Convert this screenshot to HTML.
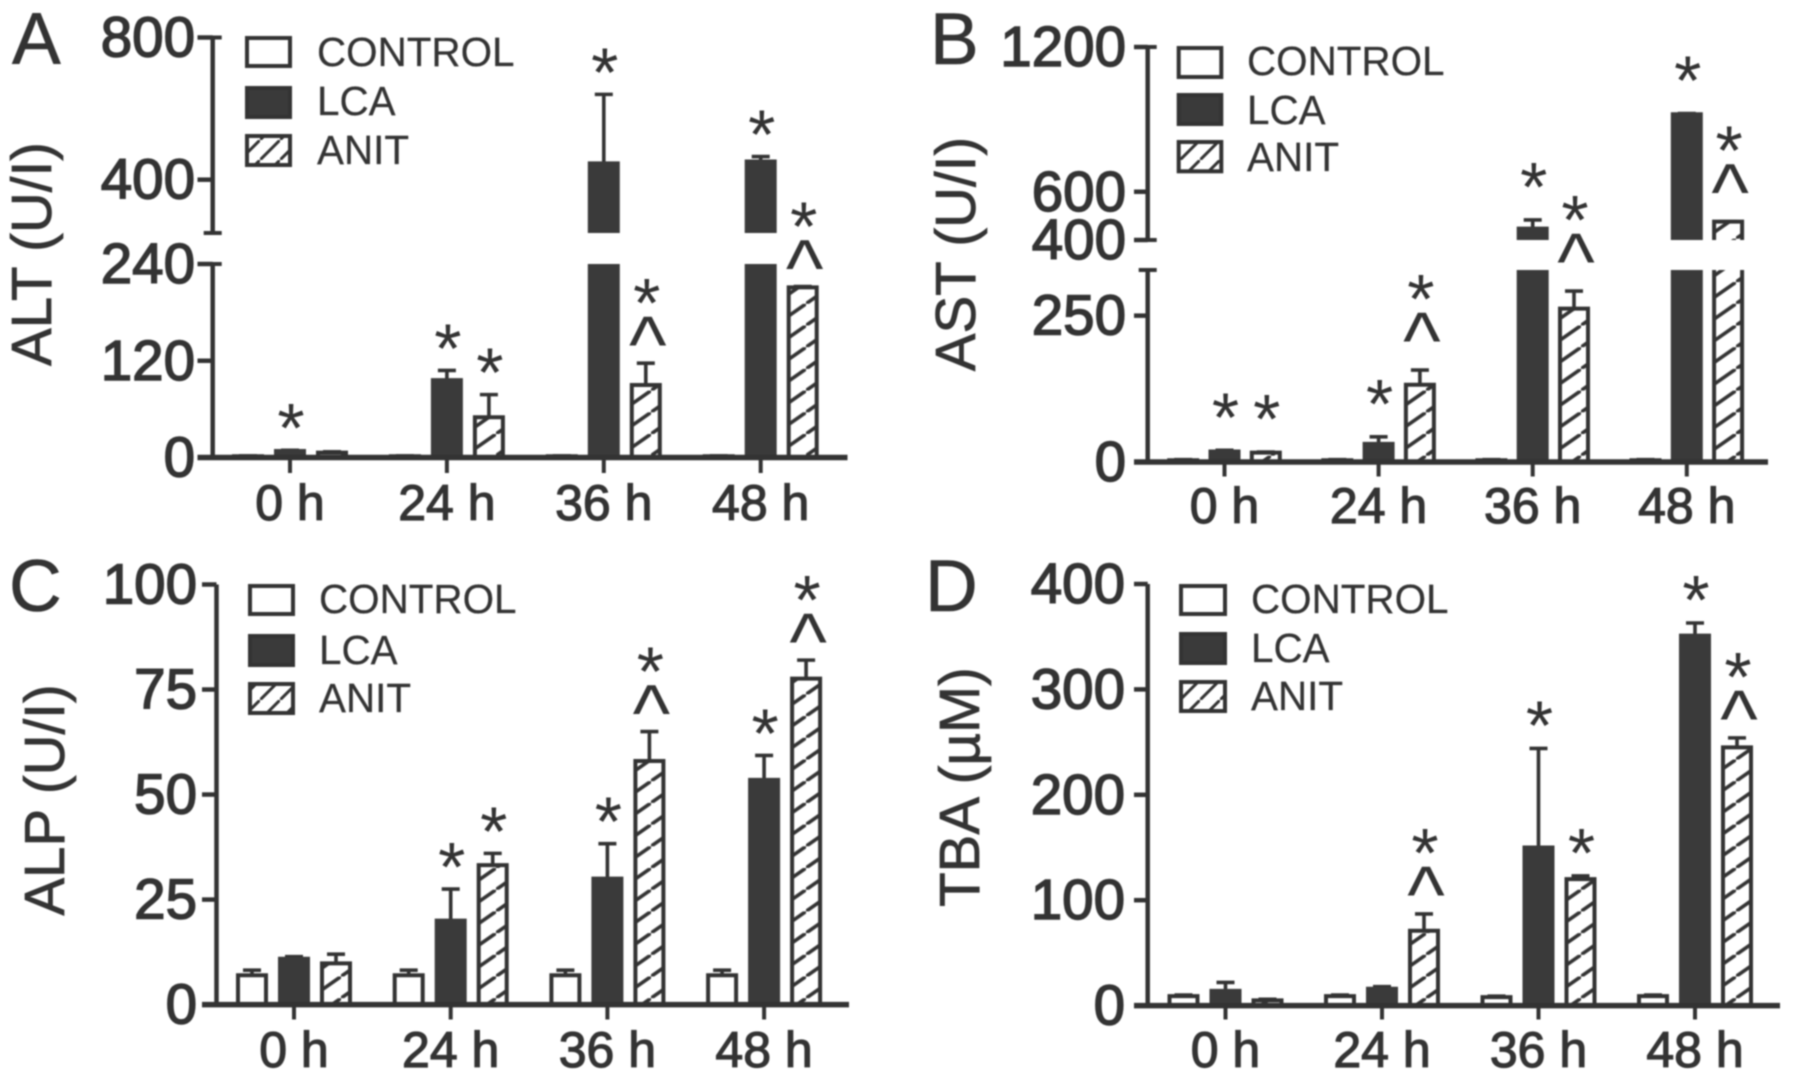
<!DOCTYPE html>
<html>
<head>
<meta charset="utf-8">
<title>Liver injury markers: ALT, AST, ALP and TBA</title>
<style>
html,body{margin:0;padding:0;background:#fff;width:1795px;height:1080px;overflow:hidden}
svg{display:block;filter:blur(.8px)}
text{font-family:"Liberation Sans",Arial,sans-serif;fill:#333}
.panel-letter{font-size:73px;stroke:#333;stroke-width:.6px}
.y-title{font-size:56.5px;text-anchor:middle;stroke:#333;stroke-width:.7px}
.legend-text{font-size:40.4px;stroke:#333;stroke-width:.2px}
.legend-box{stroke:#333;stroke-width:4px}
.tick-text{font-size:56.5px;text-anchor:end;stroke:#333;stroke-width:1.5px}
.cat-text{font-size:50px;text-anchor:middle;stroke:#333;stroke-width:1.2px}
.star{font-size:70px;text-anchor:middle}
.caret{font-size:80px;text-anchor:middle}
</style>
</head>
<body>
<svg id="figure" width="1795" height="1080" viewBox="0 0 1795 1080" xmlns="http://www.w3.org/2000/svg">
  <defs>
    <pattern id="hatch" patternUnits="userSpaceOnUse" width="31" height="21.7">
      <path d="M-3 23.8 L34 -2.1" stroke="#333" stroke-width="3.6" fill="none"/>
    </pattern>
    <pattern id="hatch-legend" patternUnits="userSpaceOnUse" width="20" height="20">
      <path d="M-2 22 L22 -2" stroke="#333" stroke-width="3" fill="none"/>
    </pattern>
  </defs>
  <rect x="0" y="0" width="1795" height="1080" fill="#fff"/>

  <g id="panel-a">
    <text class="panel-letter" x="12" y="64">A</text>
    <text class="y-title" transform="translate(51 254) rotate(-90)">ALT (U/I)</text>
    <g>
      <rect class="legend-box" x="247" y="38" width="43" height="28" fill="#fff"/>
      <text class="legend-text" x="317" y="66">CONTROL</text>
      <rect class="legend-box" x="247" y="88" width="43" height="29" fill="#3a3a3a"/>
      <text class="legend-text" x="317" y="115">LCA</text>
      <rect class="legend-box" x="247" y="136" width="43" height="29" fill="url(#hatch-legend)"/>
      <text class="legend-text" x="317" y="164">ANIT</text>
    </g>
  </g>

  <g id="panel-b">
    <text class="panel-letter" x="930" y="64">B</text>
    <text class="y-title" transform="translate(975 254) rotate(-90)">AST (U/I)</text>
    <g>
      <rect class="legend-box" x="1178.7" y="48" width="42.6" height="29" fill="#fff"/>
      <text class="legend-text" x="1247" y="75">CONTROL</text>
      <rect class="legend-box" x="1178.7" y="95" width="42.6" height="29" fill="#3a3a3a"/>
      <text class="legend-text" x="1247" y="124">LCA</text>
      <rect class="legend-box" x="1178.7" y="142" width="42.6" height="29.3" fill="url(#hatch-legend)"/>
      <text class="legend-text" x="1247" y="171">ANIT</text>
    </g>
  </g>

  <g id="panel-c">
    <text class="panel-letter" x="9" y="611">C</text>
    <text class="y-title" transform="translate(64 800) rotate(-90)">ALP (U/I)</text>
    <g>
      <rect class="legend-box" x="250" y="586" width="43" height="28" fill="#fff"/>
      <text class="legend-text" x="319" y="613">CONTROL</text>
      <rect class="legend-box" x="250" y="636" width="43" height="29" fill="#3a3a3a"/>
      <text class="legend-text" x="319" y="664">LCA</text>
      <rect class="legend-box" x="250" y="684" width="43" height="29" fill="url(#hatch-legend)"/>
      <text class="legend-text" x="319" y="712">ANIT</text>
    </g>
  </g>

  <g id="panel-d">
    <text class="panel-letter" x="925" y="611">D</text>
    <text class="y-title" transform="translate(979 787) rotate(-90)">TBA (µM)</text>
    <g>
      <rect class="legend-box" x="1181" y="586" width="44" height="28" fill="#fff"/>
      <text class="legend-text" x="1251" y="613">CONTROL</text>
      <rect class="legend-box" x="1181" y="634" width="44" height="29" fill="#3a3a3a"/>
      <text class="legend-text" x="1251" y="662">LCA</text>
      <rect class="legend-box" x="1181" y="682" width="44" height="29" fill="url(#hatch-legend)"/>
      <text class="legend-text" x="1251" y="710">ANIT</text>
    </g>
  </g>
</svg>

<script>
// ---- shared categories ----
const categories = ['0 h', '24 h', '36 h', '48 h'];

// ---- panel A: ALT (U/I) ----
const altTicks = [0, 120, 240, 400, 800];
const altControl = [1.5, 1.5, 1.5, 1.5];
const altControlErr = [0.5, 0.5, 0.5, 0.5];
const altLca = [8, 96, 446, 451];
const altLcaErr = [1, 12, 194, 14];
const altAnit = [6, 50, 90, 211];
const altAnitErr = [1, 28, 27, 1];
const altLcaMarks = ['*', '*', '*', '*'];
const altAnitMarks = ['', '*', '*^', '*^'];

// ---- panel B: AST (U/I) ----
const astTicks = [0, 250, 400, 600, 1200];
const astControl = [3, 3, 3, 3];
const astControlErr = [1, 1, 1, 1];
const astLca = [18, 31, 447, 921];
const astLcaErr = [2, 12, 36, 3];
const astAnit = [16, 132, 262, 476];
const astAnitErr = [1, 25, 30, 0];
const astLcaMarks = ['*', '*', '*', '*'];
const astAnitMarks = ['*', '*^', '*^', '*^'];

// ---- panel C: ALP (U/I) ----
const alpTicks = [0, 25, 50, 75, 100];
const alpControl = [7, 7, 7, 7];
const alpControlErr = [1.2, 1.2, 1.2, 1.2];
const alpLca = [10.9, 20, 30, 53.5];
const alpLcaErr = [0.5, 7.5, 8.3, 5.8];
const alpAnit = [9.8, 33.2, 58, 77.6];
const alpAnitErr = [2.2, 2.8, 7, 4.4];
const alpLcaMarks = ['', '*', '*', '*'];
const alpAnitMarks = ['', '*', '*^', '*^'];

// ---- panel D: TBA (uM) ----
const tbaTicks = [0, 100, 200, 300, 400];
const tbaControl = [9, 9, 8, 9];
const tbaControlErr = [1, 1, 1, 1];
const tbaLca = [14, 16, 150, 351];
const tbaLcaErr = [8, 2, 94, 12];
const tbaAnit = [5, 71, 120, 245];
const tbaAnitErr = [1, 16, 3, 9];
const tbaLcaMarks = ['', '', '*', '*'];
const tbaAnitMarks = ['', '*^', '*', '*^'];

const SVGNS = 'http://www.w3.org/2000/svg';
const INK = '#333';
const DARK = '#3a3a3a';

function mk(parent, tag, attrs, txt) {
  const n = document.createElementNS(SVGNS, tag);
  for (const k in attrs) n.setAttribute(k, attrs[k]);
  if (txt !== undefined) n.textContent = txt;
  parent.appendChild(n);
  return n;
}

function makeY(segs) {
  return function (v) {
    let s = segs[0];
    for (const c of segs) if (v >= c.d[0]) s = c;
    return s.r[0] + (v - s.d[0]) / (s.d[1] - s.d[0]) * (s.r[1] - s.r[0]);
  };
}

const panels = [
  { id: 'panel-a', key: 'alt', ticks: altTicks, control: altControl, controlErr: altControlErr,
    lca: altLca, lcaErr: altLcaErr, anit: altAnit, anitErr: altAnitErr,
    lcaMarks: altLcaMarks, anitMarks: altAnitMarks,
    segs: [{ d: [0, 240], r: [457.5, 264] }, { d: [250, 800], r: [233, 37.5] }],
    axisX: 212.7, xStart: 197.5, xEnd: 847.5, tickEnd: 473, labelRight: 195, catBase: 520,
    x0: 290, groupStep: 156.9, barStep: 42, gap: 31 },
  { id: 'panel-b', key: 'ast', ticks: astTicks, control: astControl, controlErr: astControlErr,
    lca: astLca, lcaErr: astLcaErr, anit: astAnit, anitErr: astAnitErr,
    lcaMarks: astLcaMarks, anitMarks: astAnitMarks,
    segs: [{ d: [0, 328], r: [462, 270] }, { d: [400, 1200], r: [240, 47] }],
    axisX: 1147.7, xStart: 1134, xEnd: 1768, tickEnd: 476.5, labelRight: 1126, catBase: 523,
    x0: 1224.5, groupStep: 154.1, barStep: 41.3, gap: 42 },
  { id: 'panel-c', key: 'alp', ticks: alpTicks, control: alpControl, controlErr: alpControlErr,
    lca: alpLca, lcaErr: alpLcaErr, anit: alpAnit, anitErr: alpAnitErr,
    lcaMarks: alpLcaMarks, anitMarks: alpAnitMarks,
    segs: [{ d: [0, 100], r: [1004.6, 584.5] }],
    axisX: 216.5, xStart: 202, xEnd: 849, tickEnd: 1019.5, labelRight: 197, catBase: 1067,
    x0: 294, groupStep: 156.7, barStep: 42, gap: 31 },
  { id: 'panel-d', key: 'tba', ticks: tbaTicks, control: tbaControl, controlErr: tbaControlErr,
    lca: tbaLca, lcaErr: tbaLcaErr, anit: tbaAnit, anitErr: tbaAnitErr,
    lcaMarks: tbaLcaMarks, anitMarks: tbaAnitMarks,
    segs: [{ d: [0, 400], r: [1005.6, 584] }],
    axisX: 1147.7, xStart: 1134, xEnd: 1780, tickEnd: 1019.5, labelRight: 1125, catBase: 1067,
    x0: 1225.5, groupStep: 156.5, barStep: 42, gap: 32 }
];

const BAR_W = 28;

function drawBarPiece(g, x, yTop, yBottom, kind, closedTop) {
  const fill = kind === 'lca' ? DARK : kind === 'anit' ? 'url(#hatch)' : '#fff';
  const l = x - BAR_W / 2, r = x + BAR_W / 2;
  const piece = mk(g, 'path', {
    d: closedTop
      ? 'M' + l + ' ' + yBottom + 'L' + l + ' ' + yTop + 'L' + r + ' ' + yTop + 'L' + r + ' ' + yBottom
      : 'M' + l + ' ' + yBottom + 'L' + l + ' ' + yTop + 'M' + r + ' ' + yTop + 'L' + r + ' ' + yBottom,
    stroke: kind === 'lca' ? DARK : INK, 'stroke-width': 4, fill: 'none', 'stroke-linejoin': 'miter'
  });
  
  
  const body = mk(g, 'rect', { x: l, y: yTop, width: BAR_W, height: Math.max(0, yBottom - yTop), fill: fill });
  
  
  g.insertBefore(body, piece);
}

function drawPanel(p) {
  const root = document.getElementById(p.id);
  const y = makeY(p.segs);
  const base = y(0);
  const plot = mk(root, 'g', {});
  
  

  const groups = [
    { kind: 'control', vals: p.control, errs: p.controlErr, off: -1, marks: null },
    { kind: 'lca', vals: p.lca, errs: p.lcaErr, off: 0, marks: p.lcaMarks },
    { kind: 'anit', vals: p.anit, errs: p.anitErr, off: 1, marks: p.anitMarks }
  ];

  categories.forEach(function (cat, i) {
    const cx = p.x0 + i * p.groupStep;
    groups.forEach(function (s) {
      const x = cx + s.off * p.barStep;
      const v = s.vals[i], e = s.errs[i];
      const g = mk(plot, 'g', {});
      
      

      // error bar
      const top = y(v + e), vy = y(v);
      const stem = mk(g, 'line', { x1: x, x2: x, y1: vy, y2: top, stroke: INK, 'stroke-width': 3.6 });
      
      
      const cap = mk(g, 'line', { x1: x - 9, x2: x + 9, y1: top, y2: top, stroke: INK, 'stroke-width': 3.6 });
      
      

      // bar, split over any axis break
      if (p.segs.length === 1 || v <= p.segs[0].d[1]) {
        drawBarPiece(g, x, y(v), base, s.kind, true);
      } else {
        drawBarPiece(g, x, p.segs[0].r[1], base, s.kind, false);
        drawBarPiece(g, x, y(v), p.segs[1].r[0], s.kind, true);
      }

      // significance marks
      if (s.marks && s.marks[i]) {
        let cy = top - p.gap;
        const m = s.marks[i];
        if (m.indexOf('^') >= 0) {
          const c = mk(g, 'text', { class: 'caret', x: x + 2, y: cy + 40 }, '^');
          
          
          cy -= 38;
        }
        if (m.indexOf('*') >= 0) {
          const t = mk(g, 'text', { class: 'star', x: x + 1, y: cy + 33 }, '*');
          
          
        }
      }
    });

    const tick = mk(plot, 'line', { x1: cx, x2: cx, y1: base, y2: p.tickEnd, stroke: INK, 'stroke-width': 4 });
    
    
    const lab = mk(plot, 'text', { class: 'cat-text', x: cx, y: p.catBase }, cat);
    
    
  });

  // y axis segments with end caps
  p.segs.forEach(function (s) {
    const line = mk(plot, 'line', { x1: p.axisX, x2: p.axisX, y1: s.r[0], y2: s.r[1], stroke: INK, 'stroke-width': 4.5 });
    
    
    if (p.segs.length > 1) {
      [s.r[0], s.r[1]].forEach(function (cy) {
        if (Math.abs(cy - base) < 1) return;
        const c = mk(plot, 'line', { x1: p.axisX - 9, x2: p.axisX + 9, y1: cy, y2: cy, stroke: INK, 'stroke-width': 4 });
        
        
      });
    }
  });

  // y ticks
  p.ticks.forEach(function (t) {
    const ty = y(t);
    const tk = mk(plot, 'line', { x1: p.xStart, x2: p.axisX, y1: ty, y2: ty, stroke: INK, 'stroke-width': 4.5 });
    
    
    const lb = mk(plot, 'text', { class: 'tick-text', x: p.labelRight, y: ty + 19 }, String(t));
    
    
  });

  // x axis
  const xa = mk(plot, 'line', { x1: p.xStart, x2: p.xEnd, y1: base, y2: base, stroke: INK, 'stroke-width': 5.5 });
  
  
}

panels.forEach(drawPanel);
</script>
</body>
</html>
